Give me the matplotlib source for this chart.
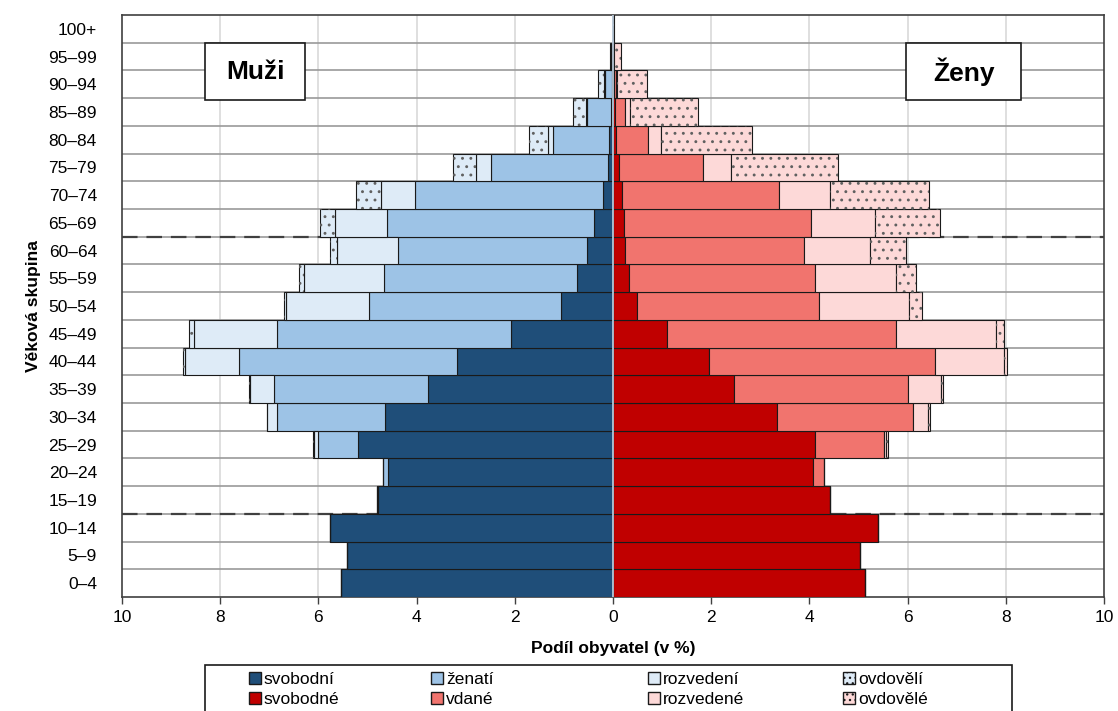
import numpy as np
import matplotlib.pyplot as plt
from matplotlib.patches import Patch, Rectangle

plt.rcParams['font.family'] = ['Liberation Sans', 'DejaVu Sans']
plt.rcParams['hatch.linewidth'] = 0.9

vekove_skupiny = ['0–4', '5–9', '10–14', '15–19', '20–24', '25–29', '30–34', '35–39',
                  '40–44', '45–49', '50–54', '55–59', '60–64', '65–69', '70–74',
                  '75–79', '80–84', '85–89', '90–94', '95–99', '100+']

# muzi (v %)
muzi_svobodni = [5.54, 5.41, 5.77, 4.79, 4.59, 5.20, 4.65, 3.77, 3.18, 2.07, 1.05,
                 0.73, 0.53, 0.38, 0.21, 0.11, 0.075, 0.04, 0.03, 0.01, 0.0]
muzi_zenati = [0.0, 0.0, 0.0, 0.01, 0.09, 0.80, 2.19, 3.14, 4.43, 4.78, 3.91,
               3.94, 3.85, 4.22, 3.82, 2.38, 1.14, 0.48, 0.14, 0.02, 0.0]
muzi_rozvedeni = [0.0, 0.0, 0.0, 0.0, 0.005, 0.09, 0.20, 0.49, 1.10, 1.69, 1.69,
                  1.63, 1.24, 1.06, 0.70, 0.31, 0.11, 0.03, 0.02, 0.005, 0.0]
muzi_ovdoveli = [0.0, 0.0, 0.0, 0.0, 0.0, 0.01, 0.01, 0.02, 0.05, 0.10, 0.05,
                 0.09, 0.15, 0.31, 0.50, 0.46, 0.38, 0.27, 0.11, 0.02, 0.005]

# zeny (v %)
zeny_svobodne = [5.14, 5.03, 5.39, 4.41, 4.07, 4.11, 3.35, 2.46, 1.95, 1.10, 0.48,
                 0.33, 0.24, 0.22, 0.18, 0.13, 0.06, 0.05, 0.02, 0.005, 0.0]
zeny_vdane = [0.0, 0.0, 0.0, 0.005, 0.22, 1.40, 2.77, 3.54, 4.61, 4.67, 3.71,
              3.78, 3.64, 3.81, 3.20, 1.70, 0.65, 0.19, 0.04, 0.005, 0.0]
zeny_rozvedene = [0.0, 0.0, 0.0, 0.0, 0.005, 0.06, 0.29, 0.69, 1.40, 2.04, 1.84,
                  1.65, 1.35, 1.31, 1.04, 0.58, 0.27, 0.11, 0.02, 0.005, 0.0]
zeny_ovdovele = [0.0, 0.0, 0.0, 0.0, 0.0, 0.03, 0.05, 0.03, 0.07, 0.16, 0.26,
                 0.42, 0.73, 1.33, 2.01, 2.18, 1.85, 1.38, 0.62, 0.14, 0.02]

muzi = [('svobodní', muzi_svobodni, '#1f4e79', None),
        ('ženatí', muzi_zenati, '#9dc3e6', None),
        ('rozvedení', muzi_rozvedeni, '#deebf7', None),
        ('ovdovělí', muzi_ovdoveli, '#deebf7', '..')]
zeny = [('svobodné', zeny_svobodne, '#c00000', None),
        ('vdané', zeny_vdane, '#f1746e', None),
        ('rozvedené', zeny_rozvedene, '#fdd9d8', None),
        ('ovdovělé', zeny_ovdovele, '#fdd9d8', '..')]

W, H = 1118, 711
fig = plt.figure(figsize=(W / 100, H / 100), dpi=100)
ax = fig.add_axes([122 / W, 1 - 597 / H, (1104 - 122) / W, (597 - 15) / H])

y = np.arange(len(vekove_skupiny))
edge = '#1a1a1a'
dotcol = '#606060'

def stack(ax, series, sign):
    base = np.zeros(len(y))
    for name, vals, col, hatch in series:
        v = np.array(vals)
        ax.barh(y, sign * v, left=sign * base, height=1.0, color=col, edgecolor=edge,
                linewidth=0.8, zorder=3)
        if hatch:
            ax.barh(y, sign * v, left=sign * base, height=1.0, color='none',
                    edgecolor=dotcol, linewidth=0, hatch=hatch, zorder=4)
        base += v

stack(ax, muzi, -1)
stack(ax, zeny, 1)

# grid
for gx in range(-8, 10, 2):
    ax.axvline(gx, color='#d9d9d9', lw=1.2, zorder=0)
for gy in np.arange(0.5, 20.5, 1):
    ax.axhline(gy, color='#9a9a9a', lw=1.2, zorder=1)
for gy in [2.5, 12.5]:
    ax.axhline(gy, color='#404040', lw=1.6, ls=(0, (7, 4)), zorder=2)
ax.axvline(0, color='#c3d3e4', lw=1.2, zorder=5)

ax.set_xlim(-10, 10)
ax.set_ylim(-0.5, 20.5)
ax.set_xticks(range(-10, 11, 2))
ax.set_xticklabels([str(abs(t)) for t in range(-10, 11, 2)], fontsize=12.5)
ax.set_yticks(y)
ax.set_yticklabels(vekove_skupiny, fontsize=12.5)
ax.tick_params(axis='y', length=0, pad=18)
ax.tick_params(axis='x', length=5, width=1, color='#404040', pad=4)
for s in ax.spines.values():
    s.set_color('#404040')
    s.set_linewidth(1.2)

ax.set_xlabel('Podíl obyvatel (v %)', fontsize=12.5, fontweight='bold', labelpad=12)
ax.set_ylabel('Věková skupina', fontsize=12.5, fontweight='bold', labelpad=5)

# popisky Muzi / Zeny
for x0, x1, txt in [(205, 305, 'Muži'), (906, 1021, 'Ženy')]:
    fig.patches.append(Rectangle((x0 / W, 1 - 100 / H), (x1 - x0) / W, 57 / H,
                                 transform=fig.transFigure, facecolor='white',
                                 edgecolor=edge, lw=1.2, zorder=10))
    fig.text((x0 + x1) / 2 / W, 1 - 72 / H, txt, fontsize=19, fontweight='bold',
             ha='center', va='center', zorder=11)

# legenda
fig.patches.append(Rectangle((205 / W, -0.05), (1012 - 205) / W, 1 - 665 / H + 0.05,
                             transform=fig.transFigure, facecolor='white',
                             edgecolor=edge, lw=1.2, zorder=1))
col_x = [249, 431, 648, 843]
for cx, m, z in zip(col_x, muzi, zeny):
    hs = [Patch(facecolor=m[2], edgecolor=edge, label=m[0]),
          Patch(facecolor=z[2], edgecolor=edge, label=z[0])]
    leg = fig.legend(handles=hs, ncol=1, loc='upper left',
                     bbox_to_anchor=(cx / W, 1 - 672 / H), frameon=False,
                     fontsize=12.5, handlelength=0.7, handleheight=0.7,
                     handletextpad=0.15, labelspacing=0.28, borderpad=0,
                     borderaxespad=0)
    if m[3]:
        for p in leg.get_patches():
            p.set_hatch('...')

fig.savefig('out.png', dpi=100)
